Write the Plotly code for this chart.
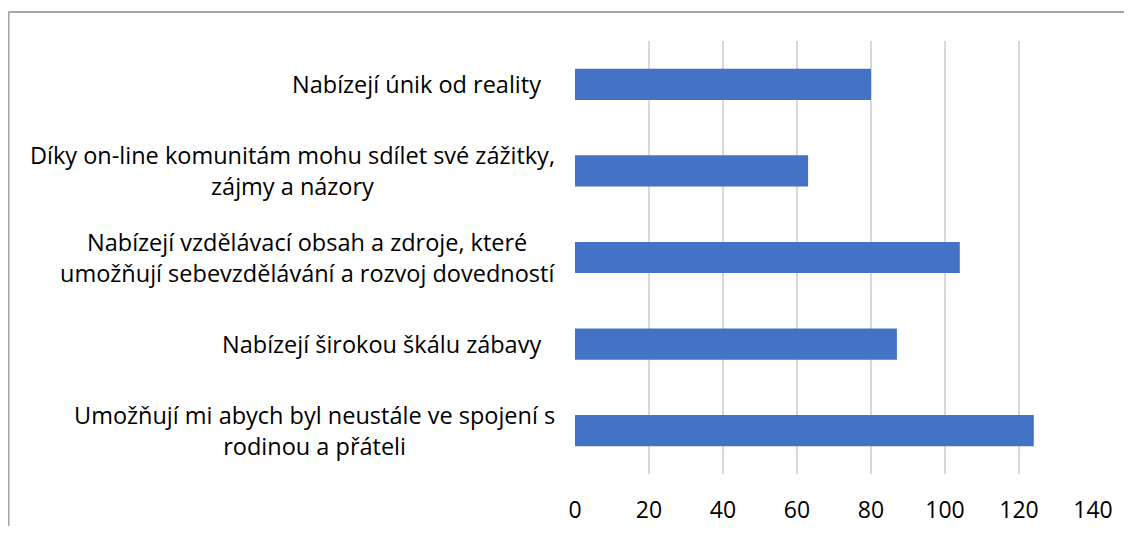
import plotly.graph_objects as go

categories = [
    "Nabízejí únik od reality",
    "Díky on-line komunitám mohu sdílet své zážitky,<br>zájmy a názory",
    "Nabízejí vzdělávací obsah a zdroje, které<br>umožňují sebevzdělávání a rozvoj dovedností",
    "Nabízejí širokou škálu zábavy",
    "Umožňují mi abych byl neustále ve spojení s<br>rodinou a přáteli",
]
values = [80, 63, 104, 87, 124]
x_ticks = [0, 20, 40, 60, 80, 100, 120, 140]

FONT = "Open Sans"
FONT_SIZE = 23.5
BAR_COLOR = "#4472C4"
GRID_COLOR = "#D9D9D9"
TEXT_COLOR = "#000000"

# page has an 8px body margin, so the figure is sized to fit inside it
W, H = 1116, 518
ML, MR, MT, MB = 567, 31, 33, 52

fig = go.Figure(
    go.Bar(
        x=values,
        y=categories,
        orientation="h",
        marker=dict(color=BAR_COLOR, line=dict(width=0)),
        hoverinfo="x+y",
    )
)

plot_w = W - ML - MR
plot_h = H - MT - MB
for lab in categories:
    shift = -18 if "<br>" in lab else -32
    fig.add_annotation(
        x=0, xref="paper", y=lab, yref="y",
        text=lab, showarrow=False,
        xanchor="right", yanchor="middle", align="center",
        xshift=shift,
        font=dict(family=FONT, size=FONT_SIZE, color=TEXT_COLOR),
    )

# outer chart border (top and left edges visible)
px = lambda p: (p - ML) / plot_w
py = lambda p: (H - MB - p) / plot_h
fig.add_shape(type="line", xref="paper", yref="paper",
              x0=px(0.5), x1=px(W + 10), y0=py(4), y1=py(4),
              line=dict(color="#A6A6A6", width=2))
fig.add_shape(type="line", xref="paper", yref="paper",
              x0=px(0.5), x1=px(0.5), y0=py(4), y1=py(H + 10),
              line=dict(color="#A6A6A6", width=2))

fig.update_layout(
    width=W, height=H,
    autosize=False,
    margin=dict(l=ML, r=MR, t=MT, b=MB, pad=0, autoexpand=False),
    paper_bgcolor="white", plot_bgcolor="white",
    bargap=0.64,
    showlegend=False,
    font=dict(family=FONT, size=FONT_SIZE, color=TEXT_COLOR),
    xaxis=dict(
        range=[0, 140], tickvals=x_ticks, ticktext=[str(v) for v in x_ticks],
        showgrid=True, gridcolor=GRID_COLOR, gridwidth=1.5,
        zeroline=False, showline=False, ticks="",
        ticklabelstandoff=20,
        tickfont=dict(family=FONT, size=23, color=TEXT_COLOR),
        automargin=False,
        fixedrange=True,
    ),
    yaxis=dict(
        categoryorder="array", categoryarray=categories,
        autorange="reversed",
        showticklabels=False, showgrid=False, zeroline=False,
        showline=False, ticks="",
        automargin=False,
        fixedrange=True,
    ),
)

fig.write_html("out.html")
